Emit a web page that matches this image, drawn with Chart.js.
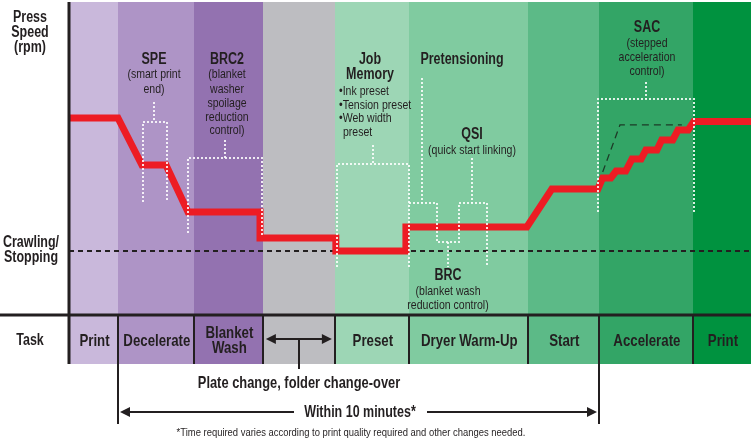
<!DOCTYPE html>
<html>
<head>
<meta charset="utf-8">
<script src="https://cdn.jsdelivr.net/npm/chart.js@4.4.1/dist/chart.umd.min.js"></script>
<style>
  html, body { margin: 0; padding: 0; background: #fff; }
  canvas { display: block; }
</style>
</head>
<body>
<canvas id="speedChart" width="751" height="442"></canvas>
<script>
// time in minutes from end of printing, speed in % of print speed (0 = crawling)
const speedTime = [-1.02, 0, 0.5, 1.0, 1.46, 2.96, 2.96, 4.54, 4.54, 6.0, 6.0, 8.52, 9.04, 10.0,
  10.1, 10.27, 10.38, 10.58, 10.71, 10.9, 11.0, 11.23, 11.33, 11.56, 11.67, 11.88, 12.0, 13.19];
const speedPct = [100, 100, 64.6, 64.6, 29.3, 29.3, 9.8, 9.8, 0, 0, 18.1, 18.1, 46.6, 46.6,
  54.9, 54.9, 60.1, 60.1, 69.1, 69.1, 75.9, 75.9, 83.4, 83.4, 90.9, 90.9, 97.3, 97.3];

// ideal acceleration (SAC dashed line)
const sacTime = [10.1, 10.46, 11.75];
const sacPct = [59.4, 94.7, 94.7];

const crawlPct = 0;

// task phases: start time of each phase
const phaseStart = [-1.02, 0, 1.58, 3.02, 4.52, 6.06, 8.54, 10.02, 11.98];
const taskLabels = ['Print', 'Decelerate', 'Blanket\nWash', '', 'Preset', 'Dryer Warm-Up', 'Start', 'Accelerate', 'Print'];

const X_MIN = -1.02, X_MAX = 13.19, Y_MIN = -48, Y_MAX = 187;

const phaseColors = ['#c9b8db', '#ae94c6', '#9372b0', '#bdbdc1', '#9dd6b5', '#80cba0', '#5cba87', '#33a566', '#00923f'];
const INK = '#231f20';
const SQ = 0.78;

// dotted callout outlines, in chart units [min, pct]
const callouts = [
  [[0.75, 111.9], [0.75, 96.9]],
  [[0.52, 36.8], [0.52, 96.9], [1.02, 96.9], [1.02, 36.8]],
  [[2.23, 83.4], [2.23, 69.9]],
  [[1.46, 13.6], [1.46, 69.9], [3.0, 69.9], [3.0, 11.3]],
  [[5.31, 79.6], [5.31, 65.4]],
  [[4.56, -12], [4.56, 65.4], [6.06, 65.4], [6.06, -12]],
  [[6.33, 129.9], [6.33, 36.1]],
  [[6.06, 36.1], [6.65, 36.1], [6.65, 6.8], [7.1, 6.8], [7.1, 36.1], [7.69, 36.1], [7.69, -12]],
  [[7.38, 69.9], [7.38, 36.1]],
  [[6.88, 6.8], [6.88, -12]],
  [[11.0, 126.9], [11.0, 114.2]],
  [[10.0, 29.3], [10.0, 114.2], [12.0, 114.2], [12.0, 29.3]]
];

// text: [string, x, y, size, bold, align, squeeze]
const notes = [
  ['Press', 30, 18, 16, 1], ['Speed', 30, 33, 16, 1], ['(rpm)', 30, 48, 16, 1],
  ['Crawling/', 31, 243, 16, 1], ['Stopping', 31, 258, 16, 1],
  ['Task', 30, 341, 16, 1],
  ['SPE', 154, 60, 16, 1], ['(smart print', 154, 74, 13.5, 0], ['end)', 154, 89, 13.5, 0],
  ['BRC2', 227, 60, 16, 1], ['(blanket', 227, 74, 13.5, 0], ['washer', 227, 89, 13.5, 0],
  ['spoilage', 227, 103, 13.5, 0], ['reduction', 227, 117, 13.5, 0], ['control)', 227, 130, 13.5, 0],
  ['Job', 370, 60, 16, 1], ['Memory', 370, 75, 16, 1],
  ['\u2022Ink preset', 339, 91, 13.5, 0, 'left'], ['\u2022Tension preset', 339, 105, 13.5, 0, 'left'],
  ['\u2022Web width', 339, 118, 13.5, 0, 'left'], ['preset', 343, 132, 13.5, 0, 'left'],
  ['Pretensioning', 462, 60, 16, 1],
  ['QSI', 472, 135, 16, 1], ['(quick start linking)', 472, 150, 13.5, 0],
  ['BRC', 448, 276, 16, 1], ['(blanket wash', 448, 291, 13.5, 0], ['reduction control)', 448, 305, 13.5, 0],
  ['SAC', 647, 28, 16, 1], ['(stepped', 647, 43, 13.5, 0], ['acceleration', 647, 57, 13.5, 0], ['control)', 647, 71, 13.5, 0],
  ['Plate change, folder change-over', 299, 383, 16.5, 1],
  ['Within 10 minutes*', 360, 413, 16, 1],
  ['*Time required varies according to print quality required and other changes needed.', 351, 433, 11.5, 0, 'center', 0.82]
];

function txt(ctx, s, x, y, size, bold, align, squeeze) {
  ctx.save();
  ctx.translate(x, y);
  ctx.scale(squeeze || SQ, 1);
  ctx.font = (bold ? 'bold ' : '') + size + 'px "Liberation Sans", Arial, sans-serif';
  ctx.fillStyle = INK;
  ctx.textAlign = align || 'center';
  ctx.textBaseline = 'middle';
  ctx.fillText(s, 0, 0);
  ctx.restore();
}

function arrowHead(ctx, x, y, dir) {
  ctx.beginPath();
  ctx.moveTo(x, y);
  ctx.lineTo(x - dir * 10, y - 5);
  ctx.lineTo(x - dir * 10, y + 5);
  ctx.closePath();
  ctx.fill();
}

const diagram = {
  id: 'diagram',
  beforeDraw(chart) {
    const { ctx, chartArea: a, scales: { x } } = chart;
    const rowBottom = 364;
    ctx.save();
    ctx.fillStyle = '#fff';
    ctx.fillRect(0, 0, chart.width, chart.height);
    phaseStart.forEach((t, i) => {
      const x0 = Math.round(x.getPixelForValue(t));
      const x1 = Math.round(x.getPixelForValue(i + 1 < phaseStart.length ? phaseStart[i + 1] : X_MAX));
      ctx.fillStyle = phaseColors[i];
      ctx.fillRect(x0, a.top, x1 - x0, rowBottom - a.top);
    });
    ctx.restore();
  },
  afterDatasetsDraw(chart) {
    const { ctx, chartArea: a, scales: { x, y } } = chart;
    const rowTop = a.bottom, rowBottom = 364;
    ctx.save();
    // dotted callouts
    ctx.strokeStyle = 'rgba(255,255,255,0.85)';
    ctx.lineWidth = 2;
    ctx.setLineDash([2, 2]);
    callouts.forEach(path => {
      ctx.beginPath();
      path.forEach(([t, p], i) => {
        const px = Math.round(x.getPixelForValue(t)), py = Math.round(y.getPixelForValue(p));
        if (i === 0) ctx.moveTo(px, py); else ctx.lineTo(px, py);
      });
      ctx.stroke();
    });
    ctx.setLineDash([]);

    // task row separators
    ctx.strokeStyle = INK;
    ctx.lineWidth = 2;
    phaseStart.forEach(t => {
      const px = Math.round(x.getPixelForValue(t));
      ctx.beginPath();
      ctx.moveTo(px, rowTop);
      ctx.lineTo(px, rowBottom);
      ctx.stroke();
    });
    // axes
    ctx.lineWidth = 3;
    ctx.beginPath();
    ctx.moveTo(a.left, a.top);
    ctx.lineTo(a.left, rowBottom);
    ctx.moveTo(0, a.bottom);
    ctx.lineTo(chart.width, a.bottom);
    ctx.stroke();

    // task labels
    taskLabels.forEach((lab, i) => {
      if (!lab) return;
      const x0 = x.getPixelForValue(phaseStart[i]);
      const x1 = x.getPixelForValue(i + 1 < phaseStart.length ? phaseStart[i + 1] : X_MAX);
      const lines = lab.split('\n');
      lines.forEach((s, k) => {
        txt(ctx, s, (x0 + x1) / 2 + 1, 341 + (k - (lines.length - 1) / 2) * 15, 17, 1);
      });
    });

    // gray cell double arrow (plate change)
    ctx.fillStyle = INK;
    ctx.lineWidth = 2;
    const g0 = x.getPixelForValue(phaseStart[3]) + 3, g1 = x.getPixelForValue(phaseStart[4]) - 3;
    const gm = Math.round((g0 + g1) / 2);
    ctx.beginPath();
    ctx.moveTo(g0 + 6, 339); ctx.lineTo(g1 - 6, 339);
    ctx.moveTo(gm, 339); ctx.lineTo(gm, 369);
    ctx.stroke();
    arrowHead(ctx, g0, 339, -1);
    arrowHead(ctx, g1, 339, 1);

    // within 10 minutes
    const w0 = Math.round(x.getPixelForValue(phaseStart[1])), w1 = Math.round(x.getPixelForValue(phaseStart[7]));
    ctx.beginPath();
    ctx.moveTo(w0, rowBottom); ctx.lineTo(w0, 424);
    ctx.moveTo(w1, rowBottom); ctx.lineTo(w1, 424);
    ctx.moveTo(w0 + 6, 412); ctx.lineTo(294, 412);
    ctx.moveTo(427, 412); ctx.lineTo(w1 - 6, 412);
    ctx.stroke();
    arrowHead(ctx, w0 + 2, 412, -1);
    arrowHead(ctx, w1 - 2, 412, 1);

    notes.forEach(n => txt(ctx, n[0], n[1], n[2], n[3], n[4], n[5], n[6]));
    ctx.restore();
  }
};

const chart = new Chart(document.getElementById('speedChart').getContext('2d'), {
  type: 'line',
  data: {
    datasets: [
      {
        label: 'Press speed',
        data: speedTime.map((t, i) => ({ x: t, y: speedPct[i] })),
        borderColor: '#ed1c24',
        borderWidth: 7,
        borderJoinStyle: 'miter',
        pointRadius: 0,
        tension: 0,
        order: 0
      },
      {
        label: 'SAC target',
        data: sacTime.map((t, i) => ({ x: t, y: sacPct[i] })),
        borderColor: '#1d3b27',
        borderWidth: 1.3,
        borderDash: [7, 5],
        pointRadius: 0,
        tension: 0,
        order: 1
      },
      {
        label: 'Crawling/Stopping',
        data: [{ x: X_MIN, y: crawlPct }, { x: X_MAX, y: crawlPct }],
        borderColor: INK,
        borderWidth: 2,
        borderDash: [5, 4],
        pointRadius: 0,
        order: 2
      }
    ]
  },
  options: {
    responsive: false,
    animation: false,
    devicePixelRatio: 1,
    layout: { padding: { left: 69, top: 2, right: 0, bottom: 127 } },
    scales: {
      x: { type: 'linear', min: X_MIN, max: X_MAX, display: false },
      y: { type: 'linear', min: Y_MIN, max: Y_MAX, display: false }
    },
    plugins: { legend: { display: false }, tooltip: { enabled: false } }
  },
  plugins: [diagram]
});
</script>
</body>
</html>
